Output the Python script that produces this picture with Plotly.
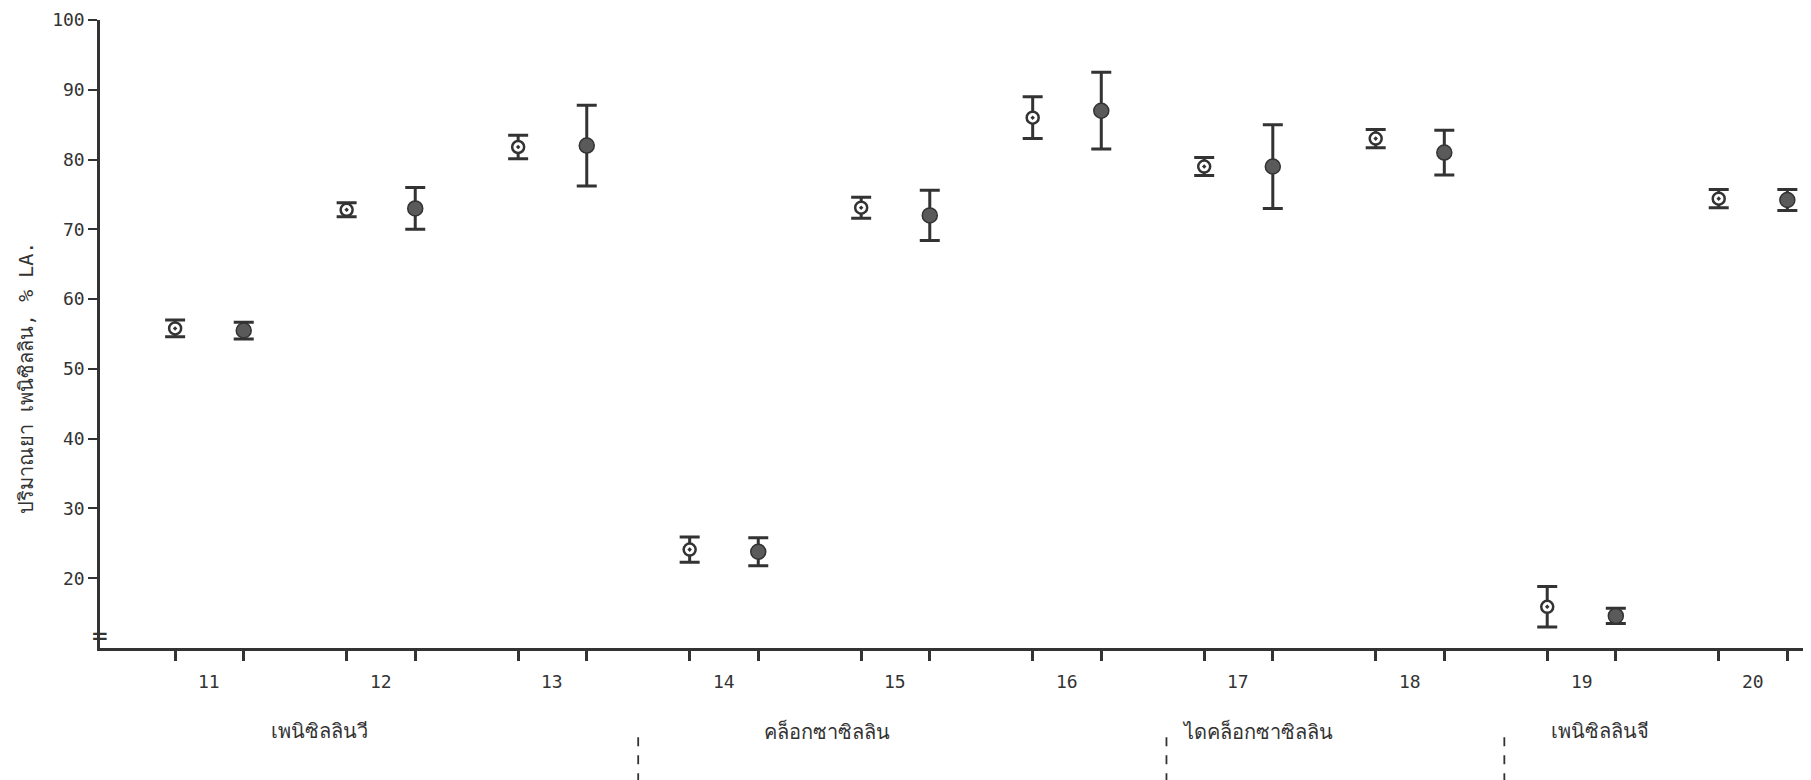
import plotly.graph_objects as go

# ---- data ----
groups = [11, 12, 13, 14, 15, 16, 17, 18, 19, 20]
open_vals = [55.8, 72.8, 81.8, 24.1, 73.1, 86.0, 79.0, 83.0, 15.9, 74.4]
open_err = [1.2, 1.0, 1.7, 1.8, 1.5, 3.0, 1.3, 1.3, 2.9, 1.3]
filled_vals = [55.5, 73.0, 82.0, 23.8, 72.0, 87.0, 79.0, 81.0, 14.6, 74.2]
filled_err = [1.2, 3.0, 5.8, 2.0, 3.6, 5.5, 6.0, 3.2, 1.1, 1.5]
pair_offset = 0.2

drug_names = ["เพนิซิลลินวี", "คล็อกซาซิลลิน", "ไดคล็อกซาซิลลิน", "เพนิซิลลินจี"]
drug_label_x = [11.64, 14.60, 17.11, 19.11]
separator_x = [13.50, 16.58, 18.55]

y_ticks = [20, 30, 40, 50, 60, 70, 80, 90, 100]
y_title = "ปริมาณยา เพนิซิลลิน, % LA."

ink = "#333333"
mono = "DejaVu Sans Mono, Liberation Mono, monospace"

open_x = [g - pair_offset for g in groups]
filled_x = [g + pair_offset for g in groups]

fig = go.Figure()
fig.add_trace(go.Scatter(
    x=open_x, y=open_vals, mode="markers",
    error_y=dict(type="data", array=open_err, visible=True, color=ink, thickness=3, width=10),
    marker=dict(symbol="circle-dot", size=12, color="white", line=dict(color=ink, width=2.5)),
    showlegend=False, cliponaxis=False,
))
fig.add_trace(go.Scatter(
    x=filled_x, y=filled_vals, mode="markers",
    error_y=dict(type="data", array=filled_err, visible=True, color=ink, thickness=3, width=10),
    marker=dict(symbol="circle", size=15, color="#5a5a5a", line=dict(color=ink, width=1.5)),
    showlegend=False, cliponaxis=False,
))

annotations = []
for g in groups:
    annotations.append(dict(x=g, y=0, xref="x", yref="paper", yshift=-33, text=str(g),
                            showarrow=False, font=dict(family=mono, size=18, color=ink),
                            yanchor="middle"))
for name, xv in zip(drug_names, drug_label_x):
    annotations.append(dict(x=xv, y=0, xref="x", yref="paper", yshift=-83, text=name,
                            showarrow=False, font=dict(family=mono, size=20, color=ink),
                            yanchor="middle"))
# y-axis title
annotations.append(dict(x=0, y=0.43, xref="paper", yref="paper", xshift=-74, text=y_title,
                        textangle=-90, showarrow=False,
                        font=dict(family=mono, size=20, color=ink), xanchor="center", yanchor="middle"))
# axis break mark
annotations.append(dict(x=0, y=11.7, xref="paper", yref="y", text="=", showarrow=False,
                        font=dict(family=mono, size=26, color=ink), xanchor="center", yanchor="middle"))

shapes = []
for sx in separator_x:
    shapes.append(dict(type="line", xref="x", yref="paper", x0=sx, x1=sx, y0=-0.142, y1=-0.23,
                       line=dict(color=ink, width=1.8, dash="dash")))

fig.update_layout(
    width=1803, height=772,
    margin=dict(l=92, r=0, t=12, b=132),
    paper_bgcolor="white", plot_bgcolor="white",
    font=dict(family=mono, color=ink),
    xaxis=dict(range=[10.362, 20.338], tickvals=open_x + filled_x,
               ticktext=[""] * (len(open_x) + len(filled_x)),
               ticks="outside", ticklen=10, tickwidth=2.5, tickcolor=ink,
               showline=True, linecolor=ink, linewidth=2.5, showgrid=False, zeroline=False),
    yaxis=dict(range=[10, 100], tickvals=y_ticks, ticks="outside", ticklen=9, tickwidth=2,
               tickcolor=ink, showline=True, linecolor=ink, linewidth=2.5, showgrid=False,
               zeroline=False, tickfont=dict(family=mono, size=18, color=ink)),
    annotations=annotations, shapes=shapes,
)
fig.write_html("out.html")
